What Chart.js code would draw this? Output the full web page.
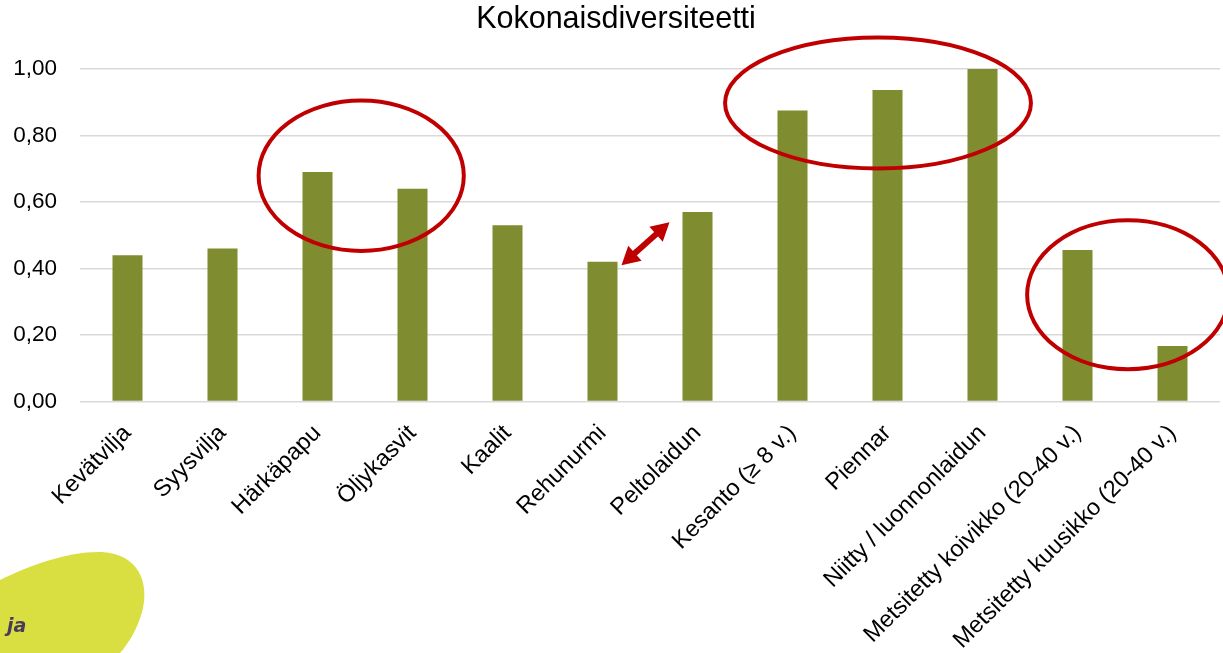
<!DOCTYPE html>
<html lang="fi">
<head>
<meta charset="UTF-8">
<title>Kokonaisdiversiteetti</title>
<script src="https://cdn.jsdelivr.net/npm/chart.js"></script>
<style>
  body { margin: 0; background: white; }
  canvas { display: block; }
</style>
</head>
<body>
<canvas id="chart" width="1223" height="653"></canvas>
<script>
  const chartTitle = "Kokonaisdiversiteetti";
  const categories = [
    "Kevätvilja", "Syysvilja", "Härkäpapu", "Öljykasvit", "Kaalit", "Rehunurmi",
    "Peltolaidun", "Kesanto (≥ 8 v.)", "Piennar", "Niitty / luonnonlaidun",
    "Metsitetty koivikko (20-40 v.)", "Metsitetty kuusikko (20-40 v.)"
  ];
  const diversity = [0.44, 0.46, 0.69, 0.64, 0.53, 0.42, 0.57, 0.875, 0.937, 1.00, 0.456, 0.167];
  const yMin = 0, yMax = 1, yStep = 0.2;

  const red = "#C00000";
  const fontFamily = "'Liberation Sans', Arial, sans-serif";

  // ellipses and arrow drawn on top of the bars, placed with the chart's scales
  const annotations = {
    id: "annotations",
    beforeDraw(chart) {
      const ctx = chart.ctx;
      ctx.save();
      // yellow blob bottom-left
      ctx.fillStyle = "#D9DF40";
      ctx.beginPath();
      ctx.moveTo(0, 580);
      ctx.bezierCurveTo(30, 565, 70, 551, 102, 552);
      ctx.bezierCurveTo(138, 554, 150, 582, 142, 612);
      ctx.bezierCurveTo(137, 630, 128, 644, 120, 653);
      ctx.lineTo(0, 653);
      ctx.closePath();
      ctx.fill();
      ctx.fillStyle = "#4A3A5C";
      ctx.font = "italic bold 19px 'DejaVu Sans', sans-serif";
      ctx.textBaseline = "alphabetic";
      ctx.fillText("ja", 7, 632);
      ctx.restore();
    },
    afterDatasetsDraw(chart) {
      const ctx = chart.ctx;
      const x = chart.scales.x, y = chart.scales.y;
      const step = x.getPixelForValue(1) - x.getPixelForValue(0);
      const unit = y.getPixelForValue(0) - y.getPixelForValue(1);
      ctx.save();
      ctx.strokeStyle = red;
      ctx.lineWidth = 4;
      [[2.46, 0.679, 1.08, 0.226], [7.9, 0.898, 1.61, 0.197], [10.53, 0.321, 1.06, 0.224]].forEach(e => {
        ctx.beginPath();
        ctx.ellipse(x.getPixelForValue(e[0]), y.getPixelForValue(e[1]), e[2] * step, e[3] * unit, 0, 0, Math.PI * 2);
        ctx.stroke();
      });

      // double arrow between Rehunurmi and Peltolaidun
      const x0 = x.getPixelForValue(5) + 19, y0 = y.getPixelForValue(0.41);
      const x1 = x.getPixelForValue(6) - 28, y1 = y.getPixelForValue(0.539);
      const a = Math.atan2(y1 - y0, x1 - x0);
      const dx = Math.cos(a), dy = Math.sin(a);
      const L = 18, W = 10;
      ctx.lineWidth = 6;
      ctx.beginPath();
      ctx.moveTo(x0 + dx * L * 0.8, y0 + dy * L * 0.8);
      ctx.lineTo(x1 - dx * L * 0.8, y1 - dy * L * 0.8);
      ctx.stroke();
      ctx.fillStyle = red;
      [[x0, y0, 1], [x1, y1, -1]].forEach(p => {
        const bx = p[0] + p[2] * dx * L, by = p[1] + p[2] * dy * L;
        ctx.beginPath();
        ctx.moveTo(p[0], p[1]);
        ctx.lineTo(bx - dy * W, by + dx * W);
        ctx.lineTo(bx + dy * W, by - dx * W);
        ctx.closePath();
        ctx.fill();
      });
      ctx.restore();
    },
    afterDraw(chart) {
      const ctx = chart.ctx;
      ctx.save();
      ctx.fillStyle = "#000";
      ctx.font = "30.5px " + fontFamily;
      ctx.textAlign = "center";
      ctx.textBaseline = "alphabetic";
      ctx.fillText(chartTitle, 616, 28);
      ctx.restore();
    }
  };

  new Chart(document.getElementById("chart"), {
    type: "bar",
    data: {
      labels: categories,
      datasets: [{
        data: diversity,
        backgroundColor: "#7F8C2F",
        barPercentage: 0.316,
        categoryPercentage: 1
      }]
    },
    options: {
      responsive: false,
      animation: false,
      layout: { padding: { top: 69, right: 3, left: 0, bottom: 0 } },
      plugins: {
        legend: { display: false },
        tooltip: { enabled: false }
      },
      scales: {
        x: {
          grid: { display: false },
          border: { display: false },
          ticks: {
            color: "#000",
            font: { family: fontFamily, size: 23.5 },
            maxRotation: 45,
            minRotation: 45,
            autoSkip: false,
            padding: 10
          },
          afterFit(s) { s.height = 251.5; }
        },
        y: {
          min: yMin,
          max: yMax,
          grid: { color: "#D9D9D9", lineWidth: 1.5, drawTicks: false },
          border: { display: false },
          ticks: {
            stepSize: yStep,
            color: "#000",
            font: { family: fontFamily, size: 22.5 },
            padding: 23,
            callback: v => v.toFixed(2).replace(".", ",")
          },
          afterFit(s) { s.width = 80; }
        }
      }
    },
    plugins: [annotations]
  });
</script>
</body>
</html>
